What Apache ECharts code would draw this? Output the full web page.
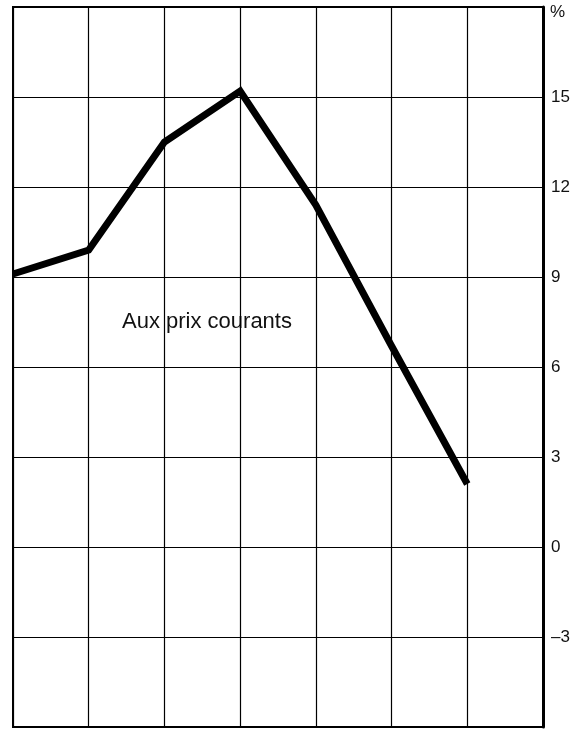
<!DOCTYPE html>
<html>
<head>
<meta charset="utf-8">
<script src="https://cdn.jsdelivr.net/npm/echarts@6/dist/echarts.min.js"></script>
<style>
  html, body { margin: 0; padding: 0; background: #fff; }
  #chart { width: 583px; height: 729px; }
</style>
</head>
<body>
<div id="chart"></div>
<script>
// Period positions (one per vertical grid line) and the growth rate in %
const periods = [0, 1, 2, 3, 4, 5, 6];
const growthCurrentPrices = [9.1, 9.9, 13.5, 15.2, 11.4, 6.7, 2.1];

// Right-hand scale
const yTicks = [-3, 0, 3, 6, 9, 12, 15];
const unitLabel = '%';
const seriesLabel = 'Aux prix courants';

const FONT = '"Liberation Sans", Arial, Helvetica, sans-serif';

const chart = echarts.init(document.getElementById('chart'), null, { renderer: 'canvas' });

chart.setOption({
  animation: false,
  backgroundColor: '#fff',
  grid: {
    left: 13, right: 40, top: 7, bottom: 2,
    show: true, borderColor: '#000', borderWidth: 2, backgroundColor: 'transparent'
  },
  xAxis: {
    type: 'value', min: 0, max: 7, interval: 1,
    axisLine: { show: false }, axisTick: { show: false }, axisLabel: { show: false },
    splitLine: { show: true, lineStyle: { color: '#000', width: 1.2 } }
  },
  yAxis: {
    type: 'value', position: 'right', min: -6, max: 18, interval: 3,
    axisLine: { show: true, onZero: false, lineStyle: { color: '#000', width: 3 } },
    axisTick: { show: false },
    splitLine: { show: true, lineStyle: { color: '#000', width: 1.2 } },
    axisLabel: {
      margin: 8, color: '#111', fontFamily: FONT, fontSize: 17,
      formatter: v => yTicks.includes(v) ? String(v).replace('-', '\u2013') : ''
    }
  },
  graphic: [
    { type: 'text', left: 550, top: 4,
      style: { text: unitLabel, fill: '#111', font: '17px ' + FONT } },
    { type: 'text', left: 122, top: 311,
      style: { text: seriesLabel, fill: '#111', font: '22px ' + FONT } }
  ],
  series: [{
    type: 'line',
    data: periods.map((p, i) => [p, growthCurrentPrices[i]]),
    symbol: 'none',
    clip: false,
    lineStyle: { color: '#000', width: 7, join: 'miter', cap: 'butt' }
  }]
});
</script>
</body>
</html>
